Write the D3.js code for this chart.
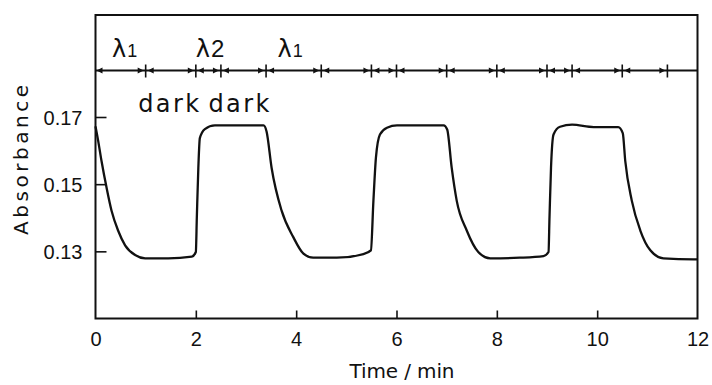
<!DOCTYPE html>
<html>
<head>
<meta charset="utf-8">
<script src="https://cdn.jsdelivr.net/npm/d3@7"></script>
<style>
  html, body { margin: 0; padding: 0; background: #fff; }
  svg { display: block; }
  .num { font-family: "Liberation Sans", Arial, sans-serif; font-size: 20px; fill: #111; }
  .lbl { font-family: "DejaVu Sans", sans-serif; fill: #111; }
</style>
</head>
<body>
<div id="chart"></div>
<script>
// time (min) and absorbance
const timeMin = [0.00, 0.05, 0.12, 0.22, 0.32, 0.45, 0.59, 0.79, 0.99, 1.45, 1.92,
  2.00, 2.02, 2.05, 2.08, 2.18, 2.38, 3.35, 3.41, 3.51, 3.71, 3.94, 4.14, 4.34, 4.81,
  5.34, 5.49, 5.54, 5.59, 5.67, 5.81, 6.01, 6.94, 7.01, 7.10, 7.20, 7.40, 7.63, 7.87,
  8.46, 8.93, 9.03, 9.05, 9.08, 9.13, 9.26, 9.50, 9.93, 10.42, 10.51, 10.56, 10.69,
  10.86, 11.06, 11.32, 11.92, 12.00]
const absorbance = [0.1672, 0.1632, 0.1569, 0.1490, 0.1421, 0.1362, 0.1318, 0.1289,
  0.1279, 0.1279, 0.1284, 0.1298, 0.1402, 0.1549, 0.1637, 0.1664, 0.1675, 0.1675,
  0.1657, 0.1549, 0.1421, 0.1343, 0.1294, 0.1281, 0.1281, 0.1292, 0.1303, 0.1451,
  0.1579, 0.1648, 0.1668, 0.1675, 0.1675, 0.1663, 0.1549, 0.1451, 0.1362, 0.1298,
  0.1279, 0.1281, 0.1286, 0.1298, 0.1402, 0.1549, 0.1648, 0.1671, 0.1677, 0.1670,
  0.1670, 0.1652, 0.1569, 0.1451, 0.1362, 0.1303, 0.1279, 0.1276, 0.1276]

const xTicks = [0, 2, 4, 6, 8, 10, 12]
const yTicks = [0.13, 0.15, 0.17]

// illumination schedule (boundaries, min) and its labels
const eventTimes = [0, 1, 2, 2.5, 3.4, 4.5, 5.5, 6, 7, 8, 9, 9.5, 10.5, 11.4]
const lightNames = ['λ', 'λ', 'λ']
const lightSubs = ['1', '2', '1']
const lightTimes = [0.33, 2.0, 3.63]
const darkText = ['dark', 'dark']
const darkTimes = [0.85, 2.25]

const width = 712, height = 385
const box = { left: 95.5, right: 697.5, top: 15, bottom: 318.5 }
const stripY = 70.5

const svg = d3.select('#chart').append('svg')
  .attr('width', width)
  .attr('height', height)

// scales
const xScale = d3.scaleLinear().domain([0, 12]).range([box.left, box.right])
const yScale = d3.scaleLinear().domain([0.11, 0.17]).range([box.bottom, 117])

// axes, ticks pointing inward
const xAxis = d3.axisBottom(xScale).tickValues(xTicks).tickSizeInner(-8).tickSizeOuter(0).tickPadding(13)
const yAxis = d3.axisLeft(yScale).tickValues(yTicks).tickFormat(d3.format('.2f'))
  .tickSizeInner(-11).tickSizeOuter(0).tickPadding(13)

const gx = svg.append('g')
  .attr('transform', 'translate(0,' + box.bottom + ')')
  .call(xAxis)
const gy = svg.append('g')
  .attr('transform', 'translate(' + box.left + ',0)')
  .call(yAxis)
;[gx, gy].forEach(g => {
  g.select('.domain').remove()
  g.selectAll('line').attr('stroke', '#111').attr('stroke-width', 1.6)
  g.selectAll('text').attr('class', 'num').attr('font-size', null).attr('font-family', null)
})
// no visible tick at the box corners
gx.selectAll('.tick').filter(d => d === 0 || d === 12).select('line').remove()
gy.selectAll('.tick text').attr('dy', '0.36em')

// frame and strip separator
svg.append('rect')
  .attr('x', box.left).attr('y', box.top)
  .attr('width', box.right - box.left).attr('height', box.bottom - box.top)
  .attr('fill', 'none').attr('stroke', '#111').attr('stroke-width', 2)
svg.append('line')
  .attr('x1', box.left).attr('x2', box.right)
  .attr('y1', stripY).attr('y2', stripY)
  .attr('stroke', '#111').attr('stroke-width', 1.8)

// interval markers: tick + arrowheads
const marks = svg.append('g')
eventTimes.forEach((t, i) => {
  const x = xScale(t)
  const first = i === 0
  const last = i === eventTimes.length - 1
  if (!first) {
    marks.append('line')
      .attr('x1', x).attr('x2', x).attr('y1', stripY - 6).attr('y2', stripY + 7)
      .attr('stroke', '#111').attr('stroke-width', 1.6)
    // head of the previous interval, pointing right
    marks.append('path')
      .attr('d', `M${x - 2},${stripY} L${x - 8},${stripY - 3} L${x - 8},${stripY + 3} Z`)
      .attr('fill', '#111')
  }
  if (!last) {
    const tip = first ? x + 1 : x + 2
    marks.append('path')
      .attr('d', `M${tip},${stripY} L${tip + 6},${stripY - 3} L${tip + 6},${stripY + 3} Z`)
      .attr('fill', '#111')
  }
})

// light labels
lightNames.forEach((name, i) => {
  const t = svg.append('text')
    .attr('class', 'lbl')
    .attr('x', xScale(lightTimes[i]))
    .attr('y', 57)
    .attr('font-size', 24)
  t.append('tspan').text(name)
  t.append('tspan').attr('dx', 1).attr('font-size', i === 1 ? 24 : 18)
    .attr('font-family', 'Liberation Sans').text(lightSubs[i])
})

// dark labels
darkText.forEach((s, i) => {
  svg.append('text')
    .attr('class', 'lbl')
    .attr('x', xScale(darkTimes[i]))
    .attr('y', 112)
    .attr('font-size', 24)
    .attr('textLength', 61)
    .attr('lengthAdjust', 'spacing')
    .text(s)
})

// trace
const line = d3.line()
  .x(i => xScale(timeMin[i]))
  .y(i => yScale(absorbance[i]))
  .curve(d3.curveMonotoneX)
svg.append('path')
  .attr('d', line(d3.range(timeMin.length)))
  .attr('fill', 'none')
  .attr('stroke', '#111')
  .attr('stroke-width', 2.3)
  .attr('stroke-linejoin', 'round')

// axis titles
svg.append('text')
  .attr('class', 'lbl')
  .attr('x', 402).attr('y', 378)
  .attr('text-anchor', 'middle')
  .attr('font-size', 20)
  .attr('textLength', 105)
  .attr('lengthAdjust', 'spacing')
  .text('Time / min')
svg.append('text')
  .attr('class', 'lbl')
  .attr('transform', 'translate(28,160) rotate(-90)')
  .attr('text-anchor', 'middle')
  .attr('font-size', 20)
  .attr('textLength', 150)
  .attr('lengthAdjust', 'spacing')
  .text('Absorbance')
</script>
</body>
</html>
